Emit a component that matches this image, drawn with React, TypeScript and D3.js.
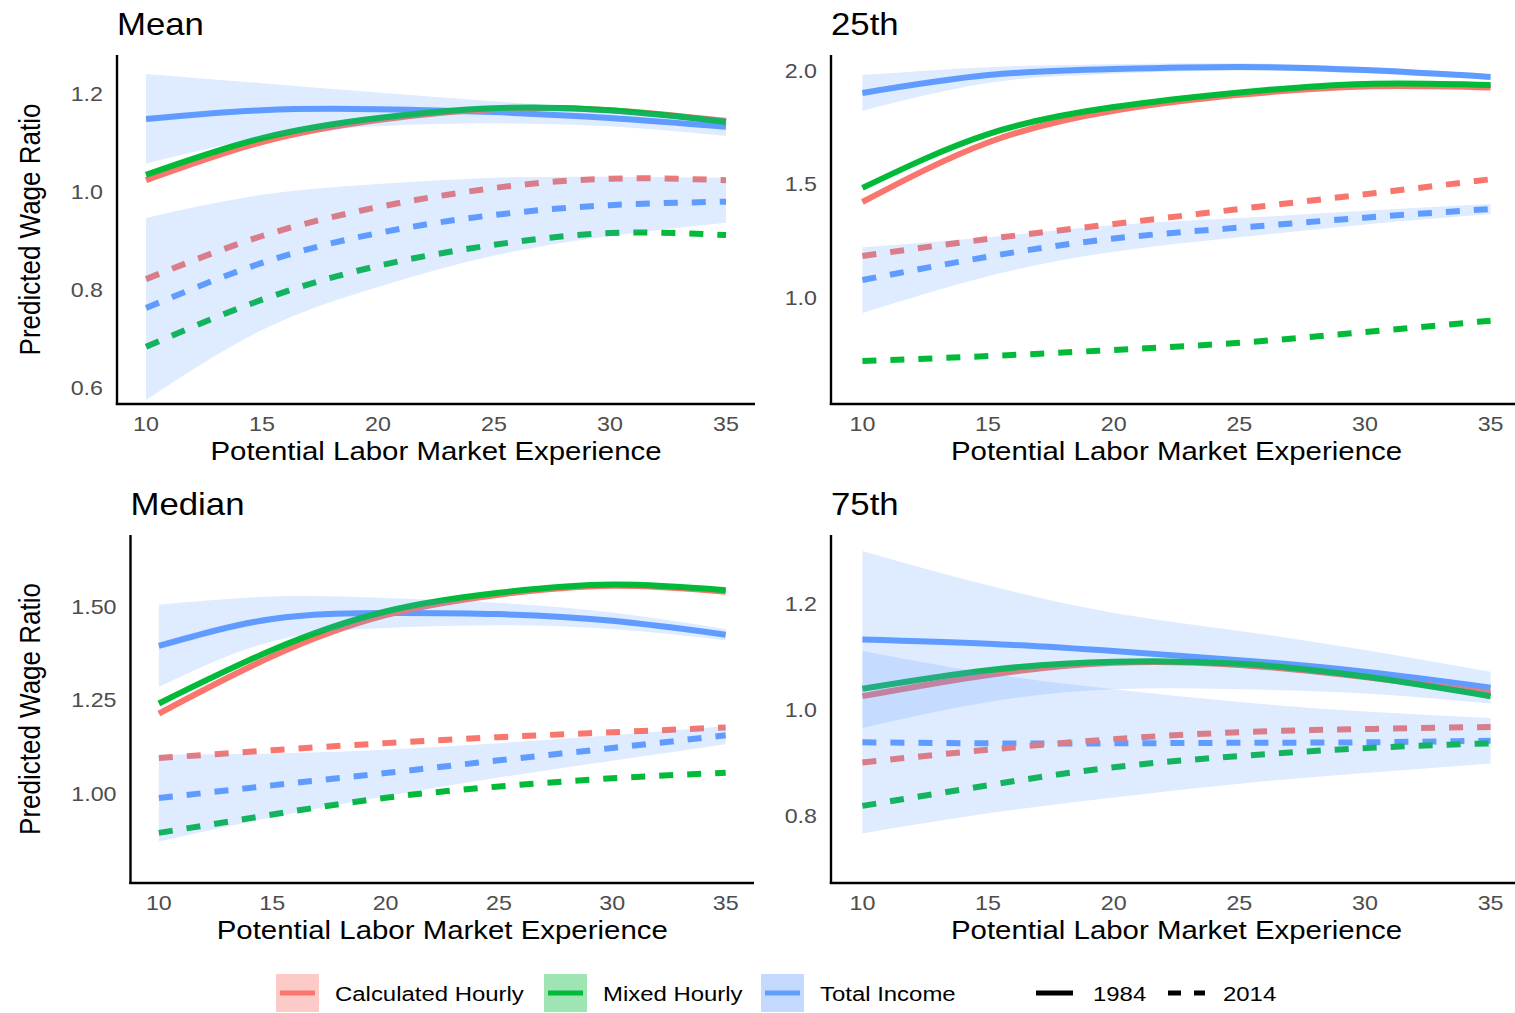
import React from "react";
import * as d3 from "d3";

// ---------- data ----------
const experience = [10, 15, 20, 25, 30, 35];
const seriesNames = ["Calculated Hourly", "Mixed Hourly", "Total Income"];
const yearNames = ["1984", "2014"];
const panelTitles = ["Mean", "25th", "Median", "75th"];

// Mean
const meanCalc1984 = [1.024, 1.102, 1.147, 1.169, 1.167, 1.145];
const meanMixed1984 = [1.035, 1.11, 1.151, 1.171, 1.167, 1.143];
const meanTotal1984 = [1.149, 1.167, 1.169, 1.163, 1.151, 1.133];
const meanTotal1984Lo = [1.058, 1.11, 1.134, 1.14, 1.134, 1.114];
const meanTotal1984Hi = [1.241, 1.222, 1.203, 1.185, 1.168, 1.152];
const meanCalc2014 = [0.822, 0.91, 0.969, 1.008, 1.027, 1.024];
const meanMixed2014 = [0.684, 0.78, 0.849, 0.892, 0.916, 0.912];
const meanTotal2014 = [0.763, 0.855, 0.916, 0.953, 0.973, 0.98];
const meanTotal2014Lo = [0.575, 0.718, 0.806, 0.87, 0.91, 0.937];
const meanTotal2014Hi = [0.947, 0.994, 1.016, 1.029, 1.031, 1.029];

// 25th
const p25Calc1984 = [1.423, 1.685, 1.825, 1.895, 1.932, 1.927];
const p25Mixed1984 = [1.485, 1.722, 1.841, 1.905, 1.943, 1.938];
const p25Total1984 = [1.903, 1.982, 2.009, 2.018, 2.004, 1.974];
const p25Total1984Lo = [1.824, 1.947, 1.988, 2.002, 1.99, 1.962];
const p25Total1984Hi = [1.982, 2.017, 2.03, 2.034, 2.018, 1.986];
const p25Calc2014 = [1.185, 1.26, 1.326, 1.392, 1.457, 1.523];
const p25Mixed2014 = [0.722, 0.744, 0.771, 0.803, 0.85, 0.9];
const p25Total2014 = [1.079, 1.182, 1.262, 1.31, 1.354, 1.392];
const p25Total2014Lo = [0.934, 1.096, 1.204, 1.268, 1.324, 1.37];
const p25Total2014Hi = [1.224, 1.268, 1.32, 1.352, 1.384, 1.414];

// Median
const medCalc1984 = [1.215, 1.368, 1.478, 1.533, 1.557, 1.541];
const medMixed1984 = [1.242, 1.385, 1.488, 1.538, 1.56, 1.545];
const medTotal1984 = [1.396, 1.468, 1.484, 1.481, 1.463, 1.426];
const medTotal1984Lo = [1.286, 1.408, 1.444, 1.451, 1.441, 1.411];
const medTotal1984Hi = [1.506, 1.528, 1.524, 1.511, 1.485, 1.441];
const medCalc2014 = [1.096, 1.117, 1.136, 1.152, 1.165, 1.178];
const medMixed2014 = [0.896, 0.945, 0.99, 1.02, 1.042, 1.057];
const medTotal2014 = [0.989, 1.023, 1.056, 1.09, 1.123, 1.157];
const medTotal2014Lo = [0.873, 0.938, 0.994, 1.044, 1.089, 1.133];
const medTotal2014Hi = [1.105, 1.108, 1.118, 1.136, 1.157, 1.181];

// 75th
const p75Calc1984 = [1.026, 1.066, 1.089, 1.085, 1.062, 1.032];
const p75Mixed1984 = [1.04, 1.075, 1.091, 1.087, 1.063, 1.026];
const p75Total1984 = [1.133, 1.125, 1.111, 1.094, 1.072, 1.042];
const p75Total1984Lo = [0.966, 1.015, 1.039, 1.039, 1.031, 1.012];
const p75Total1984Hi = [1.3, 1.235, 1.183, 1.149, 1.113, 1.072];
const p75Calc2014 = [0.901, 0.925, 0.945, 0.958, 0.964, 0.968];
const p75Mixed2014 = [0.819, 0.858, 0.892, 0.913, 0.928, 0.937];
const p75Total2014 = [0.939, 0.937, 0.937, 0.938, 0.939, 0.942];
const p75Total2014Lo = [0.767, 0.805, 0.835, 0.861, 0.881, 0.899];
const p75Total2014Hi = [1.111, 1.069, 1.039, 1.015, 0.997, 0.985];

// axis ticks / limits
const xTicks = [10, 15, 20, 25, 30, 35];
const xLimits = [10, 35];
const meanYTicks = [0.6, 0.8, 1.0, 1.2];
const p25YTicks = [1.0, 1.5, 2.0];
const medYTicks = [1.0, 1.25, 1.5];
const p75YTicks = [0.8, 1.0, 1.2];
const meanYDomain = [0.567, 1.2796];
const p25YDomain = [0.533, 2.0705];
const medYDomain = [0.762, 1.6925];
const p75YDomain = [0.6736, 1.33];

// ---------- styles ----------
const COLORS = ["#F8766D", "#00BA38", "#619CFF"];
const FONT = "'Liberation Sans', Arial, Helvetica, sans-serif";
const SX = 1.14;

type Series = { values: number[]; color: number; year: number };
type Ribbon = { lo: number[]; hi: number[]; color: number };
type Panel = {
  title: string;
  box: { left: number; right: number; top: number; bottom: number };
  yDomain: number[];
  yTicks: number[];
  yFmt: string;
  yLabel: boolean;
  series: Series[];
  ribbons: Ribbon[];
};

const mk = (c: number[], m: number[], t: number[], year: number): Series[] => [
  { values: t, color: 2, year },
  { values: c, color: 0, year },
  { values: m, color: 1, year },
];

const panels: Panel[] = [
  {
    title: panelTitles[0],
    box: { left: 117, right: 755, top: 55, bottom: 404 },
    yDomain: meanYDomain,
    yTicks: meanYTicks,
    yFmt: ".1f",
    yLabel: true,
    series: [...mk(meanCalc1984, meanMixed1984, meanTotal1984, 0), ...mk(meanCalc2014, meanMixed2014, meanTotal2014, 1)],
    ribbons: [
      { lo: meanTotal1984Lo, hi: meanTotal1984Hi, color: 2 },
      { lo: meanTotal2014Lo, hi: meanTotal2014Hi, color: 2 },
    ],
  },
  {
    title: panelTitles[1],
    box: { left: 831, right: 1522, top: 55, bottom: 404 },
    yDomain: p25YDomain,
    yTicks: p25YTicks,
    yFmt: ".1f",
    yLabel: false,
    series: [...mk(p25Calc1984, p25Mixed1984, p25Total1984, 0), ...mk(p25Calc2014, p25Mixed2014, p25Total2014, 1)],
    ribbons: [
      { lo: p25Total1984Lo, hi: p25Total1984Hi, color: 2 },
      { lo: p25Total2014Lo, hi: p25Total2014Hi, color: 2 },
    ],
  },
  {
    title: panelTitles[2],
    box: { left: 130.5, right: 754, top: 535, bottom: 883 },
    yDomain: medYDomain,
    yTicks: medYTicks,
    yFmt: ".2f",
    yLabel: true,
    series: [...mk(medCalc1984, medMixed1984, medTotal1984, 0), ...mk(medCalc2014, medMixed2014, medTotal2014, 1)],
    ribbons: [
      { lo: medTotal1984Lo, hi: medTotal1984Hi, color: 2 },
      { lo: medTotal2014Lo, hi: medTotal2014Hi, color: 2 },
    ],
  },
  {
    title: panelTitles[3],
    box: { left: 831, right: 1522, top: 535, bottom: 883 },
    yDomain: p75YDomain,
    yTicks: p75YTicks,
    yFmt: ".1f",
    yLabel: false,
    series: [...mk(p75Calc1984, p75Mixed1984, p75Total1984, 0), ...mk(p75Calc2014, p75Mixed2014, p75Total2014, 1)],
    ribbons: [
      { lo: p75Total1984Lo, hi: p75Total1984Hi, color: 2 },
      { lo: p75Total2014Lo, hi: p75Total2014Hi, color: 2 },
    ],
  },
];

function T(props: {
  x: number; y: number; size: number; anchor?: string; fill?: string; rotate?: boolean; children: React.ReactNode;
}) {
  const { x, y, size, anchor = "start", fill = "#000", rotate = false, children } = props;
  return (
    <text
      transform={`translate(${x},${y}) scale(${SX},1)${rotate ? " rotate(-90)" : ""}`}
      fontFamily={FONT}
      fontSize={size}
      textAnchor={anchor}
      fill={fill}
    >
      {children}
    </text>
  );
}

function PanelView({ p }: { p: Panel }) {
  const { left, right, top, bottom } = p.box;
  const span = xLimits[1] - xLimits[0];
  const x = d3
    .scaleLinear()
    .domain([xLimits[0] - 0.05 * span, xLimits[1] + 0.05 * span])
    .range([left, right]);
  const y = d3.scaleLinear().domain(p.yDomain).range([bottom, top]);
  const fmt = d3.format(p.yFmt);
  const line = d3
    .line<number>()
    .x((_, i) => x(experience[i]))
    .y((v) => y(v))
    .curve(d3.curveNatural);
  const area = (r: Ribbon) =>
    d3
      .area<number>()
      .x((_, i) => x(experience[i]))
      .y0((_, i) => y(r.lo[i]))
      .y1((_, i) => y(r.hi[i]))
      .curve(d3.curveNatural)(r.lo) || "";
  const cx = (left + right) / 2;
  const cy = (top + bottom) / 2;
  return (
    <g>
      <T x={left} y={top - 20} size={30.5}>{p.title}</T>
      {p.series.map((s, i) => (
        <path
          key={"l" + i}
          d={line(s.values) || ""}
          fill="none"
          stroke={COLORS[s.color]}
          strokeWidth={6}
          strokeDasharray={s.year === 1 ? "14 14" : undefined}
        />
      ))}
      {p.ribbons.map((r, i) => (
        <path key={"r" + i} d={area(r)} fill={COLORS[r.color]} fillOpacity={0.2} stroke="none" />
      ))}
      <line x1={left} x2={left} y1={top} y2={bottom + 1} stroke="#000" strokeWidth={2.4} />
      <line x1={left - 1.2} x2={right} y1={bottom} y2={bottom} stroke="#000" strokeWidth={2.4} />
      {p.yTicks.map((t) => (
        <T key={"yt" + t} x={left - 14} y={y(t) + 7} size={20.4} anchor="end" fill="#4D4D4D">
          {fmt(t)}
        </T>
      ))}
      {xTicks.map((t) => (
        <T key={"xt" + t} x={x(t)} y={bottom + 27} size={20.4} anchor="middle" fill="#4D4D4D">
          {t}
        </T>
      ))}
      <T x={cx} y={bottom + 56} size={25.8} anchor="middle">
        Potential Labor Market Experience
      </T>
      {p.yLabel && (
        <T x={40} y={cy} size={26} anchor="middle" rotate>
          Predicted Wage Ratio
        </T>
      )}
    </g>
  );
}

function Legend() {
  const cy = 993;
  const keys = [
    { x: 276, tx: 335, c: 0 },
    { x: 544, tx: 603, c: 1 },
    { x: 761, tx: 820, c: 2 },
  ];
  const ltKeys = [
    { x: 1031, tx: 1093, dash: undefined as string | undefined, label: yearNames[0] },
    { x: 1163, tx: 1223, dash: "13 13", label: yearNames[1] },
  ];
  return (
    <g>
      {keys.map((k) => (
        <g key={k.c}>
          <rect x={k.x} y={cy - 19} width={43} height={38} fill={COLORS[k.c]} fillOpacity={0.38} />
          <line x1={k.x + 4} x2={k.x + 39} y1={cy} y2={cy} stroke={COLORS[k.c]} strokeWidth={5} />
          <T x={k.tx} y={cy + 7.5} size={21}>{seriesNames[k.c]}</T>
        </g>
      ))}
      {ltKeys.map((k) => (
        <g key={k.label}>
          <line x1={k.x + 5} x2={k.x + 42} y1={cy} y2={cy} stroke="#000" strokeWidth={5} strokeDasharray={k.dash} />
          <T x={k.tx} y={cy + 7.5} size={21}>{k.label}</T>
        </g>
      ))}
    </g>
  );
}

export default function App() {
  return (
    <svg
      width={1515}
      height={1013}
      style={{ position: "absolute", left: 0, top: 0, background: "#fff" }}
    >
      <rect x={0} y={0} width={1515} height={1013} fill="#fff" />
      {panels.map((p) => (
        <PanelView key={p.title} p={p} />
      ))}
      <Legend />
    </svg>
  );
}
